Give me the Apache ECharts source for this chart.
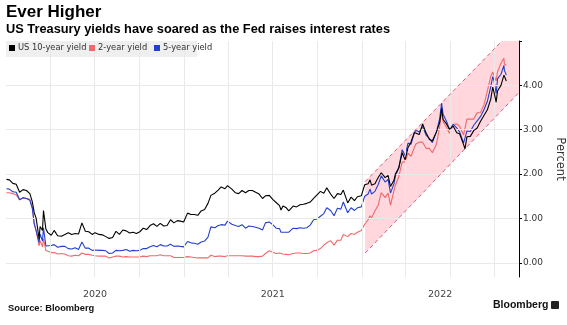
<!DOCTYPE html>
<html>
<head>
<meta charset="utf-8">
<script src="https://cdn.jsdelivr.net/npm/echarts@6/dist/echarts.min.js"></script>
<style>
html,body{margin:0;padding:0;background:#fff;}
#chart{width:567px;height:325px;}
</style>
</head>
<body>
<div id="chart"></div>
<script>
// ---------- DATA ----------
const dates = [
'2020-01-02','2020-01-08','2020-01-15','2020-01-22','2020-01-29','2020-02-05','2020-02-12','2020-02-19','2020-02-24','2020-02-28',
'2020-03-03','2020-03-09','2020-03-11','2020-03-16','2020-03-18','2020-03-23','2020-03-27','2020-04-03','2020-04-09','2020-04-16','2020-04-24',
'2020-05-01','2020-05-08','2020-05-15','2020-05-22','2020-05-29','2020-06-05','2020-06-12','2020-06-19','2020-06-26',
'2020-07-02','2020-07-10','2020-07-17','2020-07-24','2020-07-31','2020-08-07','2020-08-14','2020-08-21','2020-08-28',
'2020-09-04','2020-09-11','2020-09-18','2020-09-25','2020-10-02','2020-10-09','2020-10-16','2020-10-23','2020-10-30',
'2020-11-06','2020-11-13','2020-11-20','2020-11-27','2020-12-04','2020-12-11','2020-12-18','2020-12-24','2020-12-31',
'2021-01-08','2021-01-15','2021-01-22','2021-01-29','2021-02-05','2021-02-12','2021-02-19','2021-02-25',
'2021-03-05','2021-03-12','2021-03-18','2021-03-26','2021-03-31','2021-04-09','2021-04-16','2021-04-23','2021-04-30',
'2021-05-07','2021-05-14','2021-05-21','2021-05-28','2021-06-04','2021-06-11','2021-06-17','2021-06-25',
'2021-07-02','2021-07-09','2021-07-16','2021-07-19','2021-07-23','2021-07-30','2021-08-04','2021-08-13','2021-08-20','2021-08-27',
'2021-09-03','2021-09-10','2021-09-17','2021-09-24','2021-09-30','2021-10-08','2021-10-15','2021-10-21','2021-10-29',
'2021-11-05','2021-11-12','2021-11-19','2021-11-24','2021-12-03','2021-12-10','2021-12-17','2021-12-23','2021-12-31',
'2022-01-07','2022-01-14','2022-01-18','2022-01-21','2022-01-28','2022-02-04','2022-02-10','2022-02-18','2022-02-24',
'2022-03-01','2022-03-08','2022-03-11','2022-03-18','2022-03-25','2022-03-31','2022-04-06','2022-04-12','2022-04-19','2022-04-22','2022-04-29',
'2022-05-06','2022-05-13','2022-05-20','2022-05-26','2022-06-03','2022-06-10','2022-06-14','2022-06-17','2022-06-24','2022-06-30',
'2022-07-08','2022-07-15','2022-07-21','2022-07-29','2022-08-01','2022-08-05','2022-08-12','2022-08-19','2022-08-26',
'2022-09-02','2022-09-09','2022-09-16','2022-09-23','2022-09-27','2022-09-30','2022-10-04','2022-10-07','2022-10-14','2022-10-20','2022-10-21','2022-10-25'
];
const us10 = [
1.88,1.87,1.79,1.77,1.59,1.65,1.63,1.56,1.38,1.13,
1.00,0.54,0.82,0.73,1.18,0.76,0.68,0.62,0.73,0.61,0.60,
0.64,0.68,0.64,0.66,0.65,0.90,0.71,0.70,0.64,
0.68,0.64,0.63,0.59,0.55,0.57,0.71,0.64,0.74,
0.72,0.67,0.69,0.66,0.70,0.78,0.75,0.84,0.88,
0.82,0.89,0.83,0.84,0.97,0.90,0.95,0.94,0.92,
1.12,1.09,1.09,1.07,1.17,1.20,1.34,1.52,
1.57,1.64,1.71,1.67,1.74,1.66,1.58,1.56,1.63,
1.58,1.63,1.63,1.59,1.55,1.45,1.51,1.52,
1.43,1.36,1.29,1.19,1.28,1.24,1.17,1.28,1.26,1.31,
1.32,1.34,1.37,1.45,1.52,1.61,1.57,1.69,1.55,
1.45,1.56,1.54,1.64,1.35,1.48,1.40,1.49,1.51,
1.76,1.78,1.87,1.75,1.78,1.93,2.03,1.92,1.97,
1.72,1.86,2.00,2.14,2.48,2.32,2.60,2.72,2.94,2.90,2.89,
3.13,2.93,2.78,2.75,2.94,3.16,3.48,3.23,3.13,3.01,
3.08,2.93,2.91,2.67,2.57,2.84,2.85,2.98,3.04,
3.19,3.32,3.45,3.69,3.96,3.83,3.62,3.88,4.00,4.23,4.21,4.10
];
const us2 = [
1.58,1.58,1.56,1.53,1.42,1.46,1.45,1.43,1.26,0.86,
0.72,0.38,0.50,0.36,0.54,0.28,0.25,0.23,0.23,0.20,0.21,
0.20,0.16,0.15,0.17,0.16,0.22,0.19,0.19,0.17,
0.16,0.15,0.15,0.15,0.11,0.13,0.15,0.15,0.13,
0.14,0.13,0.13,0.13,0.13,0.15,0.14,0.16,0.16,
0.16,0.18,0.16,0.16,0.16,0.12,0.12,0.12,0.12,
0.14,0.13,0.12,0.11,0.11,0.11,0.11,0.17,
0.14,0.15,0.15,0.14,0.16,0.16,0.16,0.16,0.16,
0.15,0.15,0.15,0.14,0.14,0.15,0.21,0.27,
0.24,0.21,0.22,0.20,0.20,0.19,0.18,0.21,0.22,0.22,
0.21,0.21,0.22,0.27,0.28,0.32,0.40,0.45,0.50,
0.40,0.51,0.51,0.64,0.59,0.66,0.64,0.69,0.73,
0.87,0.97,1.06,1.01,1.17,1.31,1.58,1.47,1.57,
1.30,1.62,1.75,1.94,2.27,2.28,2.47,2.40,2.60,2.68,2.72,
2.72,2.58,2.58,2.48,2.66,3.06,3.43,3.18,3.05,2.92,
3.12,3.13,3.08,2.88,2.88,3.24,3.24,3.24,3.38,
3.39,3.56,3.87,4.20,4.30,4.28,4.10,4.31,4.50,4.61,4.48,4.45
];
const us5 = [
1.67,1.66,1.60,1.59,1.42,1.47,1.45,1.41,1.23,0.89,
0.72,0.46,0.65,0.49,0.79,0.38,0.41,0.39,0.41,0.35,0.37,
0.37,0.32,0.31,0.34,0.30,0.47,0.33,0.33,0.28,
0.29,0.28,0.28,0.27,0.21,0.22,0.28,0.27,0.28,
0.30,0.26,0.28,0.27,0.28,0.32,0.32,0.36,0.39,
0.36,0.41,0.38,0.38,0.42,0.37,0.38,0.37,0.36,
0.48,0.45,0.44,0.42,0.47,0.49,0.58,0.81,
0.79,0.84,0.86,0.85,0.94,0.87,0.84,0.82,0.86,
0.78,0.83,0.82,0.80,0.78,0.74,0.90,0.92,
0.86,0.78,0.77,0.69,0.72,0.69,0.69,0.78,0.77,0.79,
0.78,0.79,0.85,0.97,0.98,1.05,1.11,1.24,1.18,
1.06,1.23,1.21,1.37,1.13,1.24,1.18,1.24,1.26,
1.50,1.55,1.66,1.55,1.61,1.77,1.96,1.82,1.88,
1.57,1.78,1.95,2.14,2.55,2.42,2.70,2.67,2.93,2.99,2.95,
3.07,2.88,2.80,2.71,2.94,3.25,3.60,3.35,3.19,3.01,
3.12,3.04,2.95,2.70,2.68,2.97,2.96,3.10,3.20,
3.30,3.45,3.64,3.97,4.20,4.09,3.82,4.15,4.25,4.45,4.34,4.23
];
// channel (trend band) drawn in 2022
const channelUpper = [['2022-01-08', 1.83], ['2022-10-16', 5.0]];
const channelTop   = [['2022-10-16', 5.0], ['2022-11-20', 5.0]];
const channelLower = [['2022-01-08', 0.22], ['2022-11-20', 3.84]];
// axes
const xStart = '2020-01-01';
const xEnd = '2022-11-20';
const quarterLines = ['2020-04-01','2020-07-01','2020-10-01','2021-01-01','2021-04-01','2021-07-01','2021-10-01','2022-01-01','2022-04-01','2022-07-01','2022-10-01'];
const yearLabelDates = ['2020-07-02','2021-07-02','2022-06-11'];
const yTicks = [0, 1, 2, 3, 4];
const names = ['US 10-year yield', '2-year yield', '5-year yield'];
const colors = ['#000000', '#f0696b', '#2340cc'];

// ---------- CHART ----------
const T = s => new Date(s + 'T00:00:00Z').getTime();
const pairs = arr => dates.map((d, i) => [T(d), arr[i]]);
const cvt = arr => arr.map(p => [T(p[0]), p[1]]);

const chart = echarts.init(document.getElementById('chart'), null, {renderer: 'canvas'});
const sansB = 'Liberation Sans';
const sm = 'DejaVu Sans';

const option = {
  animation: false,
  backgroundColor: '#fff',
  title: [
    {text: 'Ever Higher', left: 6, top: 4, padding: 0,
     textStyle: {fontSize: 17, fontWeight: 'bold', color: '#000', fontFamily: sansB}},
    {text: 'US Treasury yields have soared as the Fed raises interest rates', left: 6, top: 23, padding: 0,
     textStyle: {fontSize: 12.8, fontWeight: 'bold', color: '#000', fontFamily: sansB}},
    {text: 'Source: Bloomberg', left: 8, top: 304, padding: 0,
     textStyle: {fontSize: 9.3, fontWeight: 'bold', color: '#111', fontFamily: sansB}},
    {text: 'Bloomberg', left: 493, top: 300, padding: 0,
     textStyle: {fontSize: 10.5, fontWeight: 'bold', color: '#111', fontFamily: sansB}}
  ],
  graphic: [
    {type: 'rect', left: 6, top: 41, shape: {width: 191, height: 16}, style: {fill: '#efefef'}, z: 5, silent: true},
    {type: 'rect', left: 551, top: 301, shape: {width: 8, height: 8, r: 1}, style: {fill: '#222'}, z: 5, silent: true}
  ],
  legend: names.map((n, i) => ({
    data: [n], left: [9, 89, 154][i], top: 44, padding: 0, z: 6,
    icon: 'rect', itemWidth: 6, itemHeight: 6, itemGap: 4,
    textStyle: {fontSize: 8.3, color: '#333', fontFamily: sm, padding: [0, 0, 0, -2]}
  })),
  grid: {left: 6, right: 48, top: 41, bottom: 48, containLabel: false, outerBoundsMode: 'none'},
  xAxis: {
    type: 'value', min: T(xStart), max: T(xEnd),
    axisLine: {show: false}, axisTick: {show: false}, splitLine: {show: false},
    axisLabel: {
      customValues: yearLabelDates.map(T),
      formatter: v => String(new Date(v).getUTCFullYear()),
      margin: 13, fontSize: 9.5, color: '#444', fontFamily: sm
    }
  },
  yAxis: {
    type: 'value', position: 'right', min: -0.32, max: 5,
    splitLine: {show: false},
    axisLine: {show: true, lineStyle: {color: '#000', width: 1}},
    axisTick: {show: true, length: 3, customValues: [0, 1, 2, 3, 4, 5], lineStyle: {color: '#000'}},
    axisLabel: {customValues: yTicks, formatter: v => v.toFixed(2), margin: 4, fontSize: 9, color: '#333', fontFamily: sm},
    name: 'Percent', nameLocation: 'middle', nameRotate: -90, nameGap: 30,
    nameTextStyle: {fontSize: 11.5, color: '#333', fontFamily: sm}
  },
  series: [
    {
      name: 'gridlines', type: 'line', data: [], silent: true, z: 1,
      markLine: {
        silent: true, symbol: ['none', 'none'], label: {show: false},
        lineStyle: {color: '#e9e9e9', type: 'solid', width: 1},
        data: quarterLines.map(d => ({xAxis: T(d)})).concat(yTicks.map(v => ({yAxis: v})))
      }
    },
    {
      name: 'band', type: 'custom', z: 2, silent: true,
      data: [[T(channelUpper[0][0]), channelUpper[0][1]]],
      renderItem: (params, api) => {
        const pts = [channelUpper[0], channelUpper[1], channelTop[1], channelLower[1], channelLower[0]]
          .map(p => api.coord([T(p[0]), p[1]]));
        return {type: 'polygon', shape: {points: pts}, style: {fill: '#ffd7dd'}};
      }
    },
    {name: '2-year yield', type: 'line', data: pairs(us2), showSymbol: false, symbol: 'none', z: 3,
     lineStyle: {color: colors[1], width: 1.1}, itemStyle: {color: colors[1]}},
    {name: '5-year yield', type: 'line', data: pairs(us5), showSymbol: false, symbol: 'none', z: 4,
     lineStyle: {color: colors[2], width: 1.1}, itemStyle: {color: colors[2]}},
    {name: 'US 10-year yield', type: 'line', data: pairs(us10), showSymbol: false, symbol: 'none', z: 5,
     lineStyle: {color: colors[0], width: 1.1}, itemStyle: {color: colors[0]}},
    {name: 'upper', type: 'line', data: cvt(channelUpper), showSymbol: false, symbol: 'none', z: 6, silent: true,
     lineStyle: {color: '#d6607c', width: 1, type: [4, 3]}},
    {name: 'lower', type: 'line', data: cvt(channelLower), showSymbol: false, symbol: 'none', z: 6, silent: true,
     lineStyle: {color: '#d6607c', width: 1, type: [4, 3]}}
  ]
};
chart.setOption(option);
</script>
</body>
</html>
